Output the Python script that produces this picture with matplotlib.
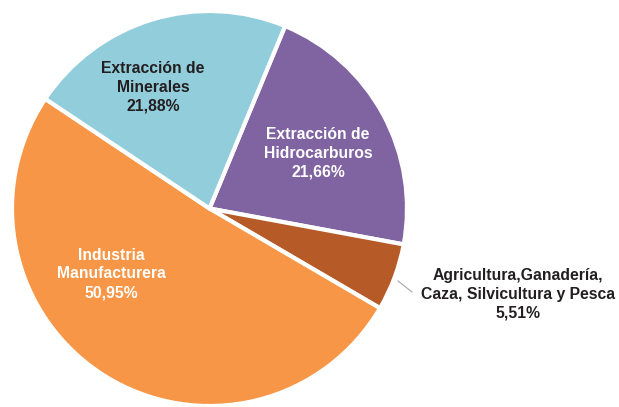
import matplotlib.pyplot as plt

# Datos del grafico
sectores = ["Extracción de\nHidrocarburos", "Agricultura,Ganadería,\nCaza, Silvicultura y Pesca",
            "Industria\nManufacturera", "Extracción de\nMinerales"]
porcentajes = [21.66, 5.51, 50.95, 21.88]
colores = ["#8064A2", "#B65A28", "#F79646", "#92CDDC"]
color_texto = ["white", "#231F20", "white", "#231F20"]

# posiciones de las etiquetas en pixeles de la imagen (x, y desde arriba)
pos_etiquetas = [(318, 153), (518, 294), (111, 274), (153, 87)]

W, H = 619, 407
cx, cy, r = 209.5, 208.5, 197.5


def to_data(px, py):
    return (px - cx) / r, (cy - py) / r


fig = plt.figure(figsize=(W / 100, H / 100), dpi=100)
ax = fig.add_axes([0, 0, 1, 1])
ax.pie(porcentajes, colors=colores, startangle=67.5, counterclock=False,
       radius=1, center=(0, 0),
       wedgeprops=dict(edgecolor="white", linewidth=3))
ax.set_xlim(-cx / r, (W - cx) / r)
ax.set_ylim(-(H - cy) / r, cy / r)
ax.set_aspect("equal")
ax.axis("off")

for nombre, pct, col, (px, py) in zip(sectores, porcentajes, color_texto, pos_etiquetas):
    texto = f"{nombre}\n{pct:.2f}%".replace(".", ",")
    x, y = to_data(px, py)
    ax.text(x, y, texto, ha="center", va="center", color=col, fontsize=11.3,
            fontweight="bold", family="Liberation Sans", linespacing=1.32)

# linea guia para la etiqueta de Agricultura
x0, y0 = to_data(398, 281)
x1, y1 = to_data(412, 292)
ax.plot([x0, x1], [y0, y1], color="#A6A6A6", linewidth=0.8)

plt.savefig("out.png", dpi=100)
